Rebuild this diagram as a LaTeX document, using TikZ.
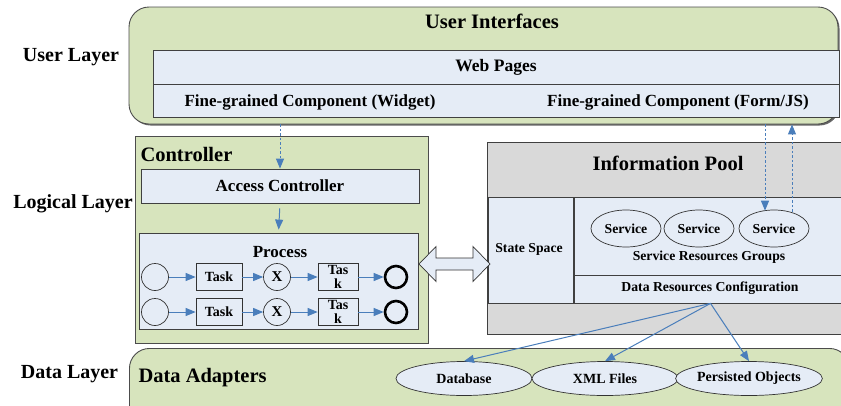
\documentclass[tikz,border=0pt]{standalone}
\usepackage{fontspec}
\setmainfont{Liberation Serif}
\usetikzlibrary{arrows.meta,shapes.geometric,calc}
\definecolor{leaf}{HTML}{D7E4BD}
\definecolor{pale}{HTML}{E5ECF6}
\definecolor{pool}{HTML}{D9D9D9}
\definecolor{link}{HTML}{4A7EBB}
\newcommand{\fs}[1]{\fontsize{#1}{#1}\selectfont\bfseries}
\tikzset{
  panel/.style={draw=black!75, line width=0.8pt, fill=pale, inner sep=0pt},
  greenbox/.style={draw=black!70, line width=0.9pt, fill=leaf, inner sep=0pt},
  layerlbl/.style={font=\fs{20}},
  title/.style={font=\fs{20.5}},
  flow/.style={draw=link, line width=1pt, -{Triangle[length=10pt,width=8pt]}},
  dashflow/.style={flow, dash pattern=on 2.5pt off 2pt},
  evt/.style={circle, draw=black!80, line width=0.7pt, fill=pale, minimum size=27pt, inner sep=0pt},
  endevt/.style={circle, draw=black, line width=2.6pt, fill=pale, minimum size=22pt, inner sep=0pt},
  gate/.style={circle, draw=black!80, line width=0.7pt, fill=pale, minimum size=27pt, inner sep=0pt, font=\fs{15}},
  task/.style={draw=black!80, line width=0.7pt, fill=pale, inner sep=0pt, minimum height=27pt, font=\fs{14}, align=center},
  svc/.style={ellipse, draw=black!80, line width=0.7pt, fill=pale, minimum width=70pt, minimum height=37pt, inner sep=0pt, font=\fs{13.7}},
  store/.style={ellipse, draw=black!80, line width=0.7pt, fill=pale, minimum height=34pt, inner sep=0pt, font=\fs{14}},
}
\begin{document}
\begin{tikzpicture}[x=1pt,y=-1pt]
\useasboundingbox (0,0) rectangle (841,405);

% ---------------- user layer ----------------
\node[layerlbl] (ulayer) at (71,57) {User Layer};
\fill[black!60, rounded corners=20pt] (130.5,8.5) rectangle (839.5,125.5);
\node[greenbox, rounded corners=20pt, minimum width=709pt, minimum height=117pt] (ui) at (483.5,65.5) {};
\node[title] (uititle) at (492,21) {User Interfaces};
\node[panel, minimum width=686pt, minimum height=34pt] (web) at (496,67) {};
\node[font=\fs{17.5}] (webtxt) at (496,67) {Web Pages};
\node[panel, minimum width=686pt, minimum height=33pt] (fine) at (496,100.5) {};
\node[font=\fs{17}] (widget) at (310,102) {Fine-grained Component (Widget)};
\node[font=\fs{17}] (formjs) at (678,102) {Fine-grained Component (Form/JS)};

% ---------------- logical layer ----------------
\node[layerlbl] (llayer) at (73,204) {Logical Layer};

% controller
\node[greenbox, minimum width=293pt, minimum height=207pt] (ctrl) at (281.5,239.5) {};
\node[title, anchor=west] (ctrltitle) at (137,154) {Controller};
\node[panel, minimum width=278pt, minimum height=34pt] (acc) at (280,186) {};
\node[font=\fs{17}] (acctxt) at (280,186) {Access Controller};
\node[panel, minimum width=279pt, minimum height=96pt] (proc) at (278.5,281) {};
\node[font=\fs{17}] (proctxt) at (280,252) {Process};

% two process lanes
\foreach \r/\y in {a/277,b/312}{
  \node[evt] (s\r) at (155,\y) {};
  \node[task, minimum width=46pt] (t\r) at (219,\y) {Task};
  \node[gate] (g\r) at (277,\y) {X};
  \node[task, minimum width=40pt, font=\fontsize{14}{13.5}\selectfont\bfseries] (u\r) at (338,\y) {Tas\\k};
  \node[endevt] (e\r) at (396,\y) {};
  \draw[flow] (s\r) -- (t\r);
  \draw[flow] (t\r) -- (g\r);
  \draw[flow] (g\r) -- (u\r);
  \draw[flow] (u\r) -- (e\r);
}

% information pool
\node[draw=black!75, line width=0.8pt, fill=pool, minimum width=360pt, minimum height=192pt, inner sep=0pt] (pool) at (667,238) {};
\node[title] (pooltitle) at (668,163) {Information Pool};
\node[panel, minimum width=85pt, minimum height=106pt] (state) at (530.5,250) {};
\node[font=\fs{13.7}] (statetxt) at (529,249) {State Space};
\node[panel, minimum width=273pt, minimum height=78pt] (srg) at (710.5,236) {};
\node[panel, minimum width=273pt, minimum height=28pt] (drc) at (710.5,289) {};
\node[font=\fs{13.7}] (srgtxt) at (709,257) {Service Resources Groups};
\node[font=\fs{13.7}] (drctxt) at (710,288) {Data Resources Configuration};
\node[svc] (svc1) at (626,228.5) {Service};
\node[svc] (svc2) at (699,228.5) {Service};
\node[svc] (svc3) at (774,228.5) {Service};

% controller <-> information pool: hollow double arrow
\draw[draw=black!80, line width=0.7pt, fill=pale, line join=miter]
  (419,264) -- (436,246.5) -- (436,258) -- (473,258) -- (473,246.5) -- (490,264)
  -- (473,281.5) -- (473,270) -- (436,270) -- (436,281.5) -- cycle;

% controller flows
\draw[dashflow] (acc.north |- ui.south) -- (acc.north);
\draw[flow, shorten <=5pt, shorten >=3pt] (acc.south) -- (proc.north);

% user interface <-> service
\coordinate (downx) at (765,0);
\coordinate (upx) at (792,0);
\draw[dashflow] (ui.south -| downx) -- ($(svc3.north -| downx)+(0,1)$);
\draw[dashflow] ($(svc3.north -| upx)+(0,2)$) -- (ui.south -| upx);

% ---------------- data layer ----------------
\node[layerlbl] (dlayer) at (69.5,374) {Data Layer};
\node[greenbox, rounded corners=20pt, minimum width=720pt, minimum height=80pt, anchor=north west] (data) at (129,348) {};
\node[title, anchor=west] (datatitle) at (135,378) {Data Adapters};
\node[store, minimum width=136pt] (db) at (464,378.5) {Database};
\node[store, minimum width=146pt] (xml) at (605,378.5) {XML Files};
\node[store, minimum width=138pt] (obj) at (749,378.5) {Persisted Objects};

\draw[flow] (drc.south) -- (db.north);
\draw[flow] (drc.south) -- (xml.north);
\draw[flow] (drc.south) -- (obj.north);
\end{tikzpicture}
\end{document}
